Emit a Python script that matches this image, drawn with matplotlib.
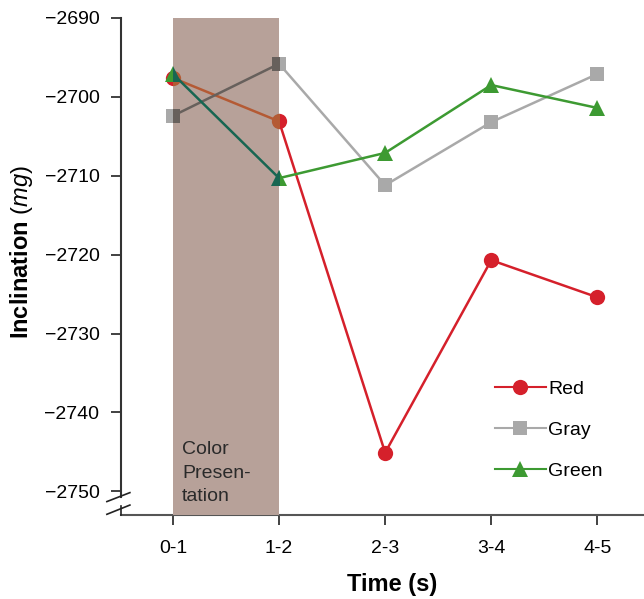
import matplotlib
matplotlib.use("Agg")
import matplotlib.pyplot as plt
from matplotlib.patches import Rectangle

plt.rcParams['font.family'] = ['Liberation Sans', 'DejaVu Sans']
plt.rcParams['mathtext.fontset'] = 'custom'
plt.rcParams['mathtext.rm'] = 'Liberation Sans'
plt.rcParams['mathtext.it'] = 'Liberation Sans:italic'
plt.rcParams['mathtext.bf'] = 'Liberation Sans:bold'

categories = ["0-1", "1-2", "2-3", "3-4", "4-5"]
red = [-2697.6, -2703.1, -2745.1, -2720.7, -2725.4]
gray = [-2702.4, -2695.8, -2711.2, -2703.2, -2697.1]
green = [-2697.1, -2710.3, -2707.1, -2698.5, -2701.4]
yticks = [-2690, -2700, -2710, -2720, -2730, -2740, -2750]

series = [
    ("Red", red, "#d5202b", "#b45a34", "o", 11),
    ("Gray", gray, "#a9a9a9", "#67605c", "s", 10.5),
    ("Green", green, "#3d9a32", "#176652", "^", 11),
]

W, H = 644, 599
fig = plt.figure(figsize=(W/100, H/100), dpi=100)
ax = fig.add_axes([121/W, 1-515/H, 523/W, 497/H])
x = list(range(len(categories)))

ax.set_xlim(-0.49, 4.44)
ax.set_ylim(-2753.0, -2690)

rect = Rectangle((0, -2753.0), 1, 63.0, facecolor="#b7a199", edgecolor="none", zorder=3)
ax.add_patch(rect)

handles = []
for name, vals, col, incol, mk, ms in series:
    ax.plot(x, vals, color=col, marker=mk, markersize=ms, linewidth=1.8,
            markeredgewidth=0, zorder=2)
    ln2, = ax.plot(x, vals, color=incol, marker=mk, markersize=ms, linewidth=1.8,
                   markeredgewidth=0, zorder=4)
    ln2.set_clip_path(rect)
    h, = ax.plot([], [], color=col, marker=mk, markersize=ms, linewidth=1.5,
                 markeredgewidth=0, label=name)
    handles.append(h)

ax.text(0.085, -2747.7, "Color\nPresen-\ntation", fontsize=14, color="#2a2a2a",
        va="center", ha="left", linespacing=1.5, zorder=5)

ax.set_xticks(x)
ax.set_xticklabels(categories, fontsize=14)
ax.set_yticks(yticks)
ax.set_yticklabels([f"\u2212{abs(v)}" for v in yticks], fontsize=14)
ax.tick_params(axis="both", direction="out", length=7.5, width=1.3, color="#333333")
ax.tick_params(axis="x", pad=10.5)
ax.tick_params(axis="y", pad=8)

for s in ["top", "right"]:
    ax.spines[s].set_visible(False)
ax.spines["bottom"].set_linewidth(1.5)
ax.spines["bottom"].set_color("#555555")
ax.spines["left"].set_linewidth(1.5)
ax.spines["left"].set_color("#333333")
ax.spines["left"].set_bounds(-2750.7, -2690)

# axis break marks and lower spine stub
kw = dict(transform=ax.transAxes, color="#222222", linewidth=1.2, clip_on=False, zorder=6)
ax.plot([0, 0], [0, 0.019], **kw)
ax.plot([-0.027, 0.017], [0.027, 0.045], **kw)
ax.plot([-0.027, 0.017], [0.0014, 0.020], **kw)

fig.text(22/W, 1-252/H, "$\\mathbf{Inclination}$ (${\\it mg}$)", fontsize=17,
         rotation=90, ha="center", va="center")
fig.text(392/W, 1-585/H, "Time (s)", fontsize=17, fontweight="bold",
         ha="center", va="center")

ax.legend(handles=handles, loc="upper left", bbox_to_anchor=(0.715, 0.271),
          frameon=False, fontsize=14, handlelength=2.6, handletextpad=0.15,
          labelspacing=1.2, borderpad=0, borderaxespad=0)

fig.savefig("out.png", dpi=100)
